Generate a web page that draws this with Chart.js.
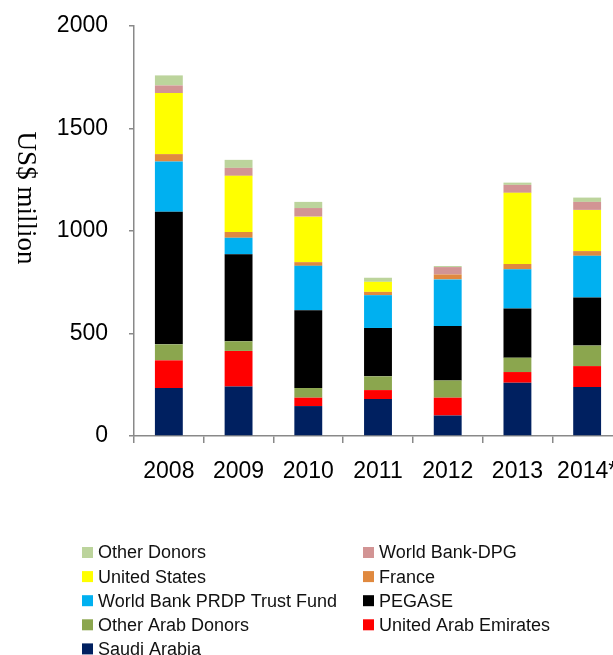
<!DOCTYPE html>
<html>
<head>
<meta charset="utf-8">
<script src="https://cdn.jsdelivr.net/npm/chart.js@4.4.1/dist/chart.umd.min.js"></script>
<style>
  html, body { margin: 0; padding: 0; background: #ffffff; overflow: hidden; }
  #wrap { width: 613px; height: 655px; overflow: hidden; position: relative; }
  canvas { display: block; }
</style>
</head>
<body>
<div id="wrap"><canvas id="c" width="640" height="655"></canvas></div>
<script>
// Budget support to the Palestinian Authority by donor, US$ million
const years = ['2008', '2009', '2010', '2011', '2012', '2013', '2014*'];

// Series, stacked from the bottom up
const saudiArabia      = [234, 242, 146, 180, 100, 260, 239];
const uae              = [135, 173,  41,  44,  87,  52, 102];
const otherArabDonors  = [ 78,  47,  47,  67,  84,  70, 100];
const pegase           = [647, 424, 380, 236, 266, 240, 235];
const wbPrdpTrustFund  = [245,  81, 216, 160, 227, 191, 203];
const france           = [ 36,  28,  18,  16,  24,  26,  23];
const unitedStates     = [298, 274, 222,  49,   0, 347, 201];
const worldBankDpg     = [ 37,  39,  42,   0,  36,  39,  39];
const otherDonors      = [ 49,  39,  30,  20,   5,  11,  21];

const yTicks = [0, 500, 1000, 1500, 2000];

const series = [
  { label: 'Saudi Arabia',               data: saudiArabia,     color: '#002060' },
  { label: 'United Arab Emirates',       data: uae,             color: '#ff0000' },
  { label: 'Other Arab Donors',          data: otherArabDonors, color: '#8ba64e' },
  { label: 'PEGASE',                     data: pegase,          color: '#000000' },
  { label: 'World Bank PRDP Trust Fund', data: wbPrdpTrustFund, color: '#00b0f0' },
  { label: 'France',                     data: france,          color: '#e0893f' },
  { label: 'United States',              data: unitedStates,    color: '#ffff00' },
  { label: 'World Bank-DPG',             data: worldBankDpg,    color: '#d29494' },
  { label: 'Other Donors',               data: otherDonors,     color: '#bcd49c' }
];

const AXIS_GREY = '#898989';
const SANS = '"Liberation Sans", Arial, sans-serif';

// Rotated axis title, reading top to bottom
const axisTitle = {
  id: 'axisTitle',
  afterDraw(chart) {
    const ctx = chart.ctx;
    ctx.save();
    ctx.translate(25, 198);
    ctx.rotate(Math.PI / 2);
    ctx.font = '27px "Liberation Serif", "Times New Roman", serif';
    ctx.fillStyle = '#000000';
    ctx.textAlign = 'center';
    ctx.textBaseline = 'middle';
    ctx.fillText('US$ million', 0, 0);
    ctx.restore();
  }
};

// Two-column legend under the plot, top series first
const gridLegend = {
  id: 'gridLegend',
  afterDraw(chart) {
    const ctx = chart.ctx;
    const items = chart.data.datasets.slice().reverse();
    const colX = [82, 363];
    const rowY0 = 552.5, rowStep = 24.1, box = 11;
    ctx.save();
    ctx.font = '18px ' + SANS;
    ctx.textBaseline = 'middle';
    ctx.textAlign = 'left';
    items.forEach((ds, i) => {
      const x = colX[i % 2];
      const y = rowY0 + Math.floor(i / 2) * rowStep;
      ctx.fillStyle = ds.backgroundColor;
      ctx.fillRect(x, y - box / 2, box, box);
      ctx.fillStyle = '#111111';
      ctx.fillText(ds.label, x + box + 5, y + 1);
    });
    ctx.restore();
  }
};

new Chart(document.getElementById('c'), {
  type: 'bar',
  data: {
    labels: years,
    datasets: series.map(s => ({
      label: s.label,
      data: s.data,
      backgroundColor: s.color,
      borderWidth: 0,
      barPercentage: 0.4,
      categoryPercentage: 1.0
    }))
  },
  options: {
    responsive: false,
    animation: false,
    devicePixelRatio: 1,
    layout: { padding: { left: 0, right: 18, top: 26, bottom: 169 } },
    plugins: {
      legend: { display: false },
      tooltip: { enabled: false }
    },
    scales: {
      x: {
        stacked: true,
        afterFit(scale) {
          scale.height = 50;
          scale.paddingLeft = 0;
          scale.paddingRight = 0;
        },
        grid: {
          drawOnChartArea: false,
          drawTicks: true,
          tickLength: 7,
          color: AXIS_GREY,
          lineWidth: 1.5
        },
        border: { display: true, color: AXIS_GREY, width: 1.5 },
        ticks: {
          color: '#000000',
          font: { family: SANS, size: 23 },
          padding: 15,
          maxRotation: 0,
          autoSkip: false
        }
      },
      y: {
        stacked: true,
        min: 0,
        max: 2000,
        afterFit(scale) {
          scale.width = 134;
          scale.paddingTop = 0;
          scale.paddingBottom = 0;
        },
        afterBuildTicks(scale) { scale.ticks = yTicks.map(v => ({ value: v })); },
        grid: {
          drawOnChartArea: false,
          drawTicks: true,
          tickLength: 5,
          color: AXIS_GREY,
          lineWidth: 1.5
        },
        border: { display: true, color: AXIS_GREY, width: 1.5 },
        ticks: {
          color: '#000000',
          font: { family: SANS, size: 23 },
          padding: 21,
          callback: (v) => String(v)
        }
      }
    }
  },
  plugins: [axisTitle, gridLegend]
});
</script>
</body>
</html>
